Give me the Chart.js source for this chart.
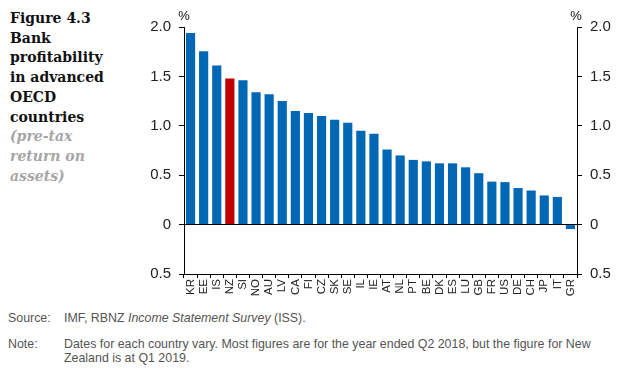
<!DOCTYPE html>
<html>
<head>
<meta charset="utf-8">
<script src="https://cdn.jsdelivr.net/npm/chart.js@4"></script>
<style>
  body { margin: 0; background: #fff; width: 627px; height: 370px; position: relative; overflow: hidden; }
  #title { position: absolute; left: 10px; top: 9px; font-family: "DejaVu Serif", serif; font-weight: bold; font-size: 14px; line-height: 19.7px; color: #111; }
  #title .sub { color: #a6a6a6; font-style: italic; }
  #wrap { position: absolute; left: 124px; top: 0; width: 503px; height: 305px; }
  .foot { position: absolute; left: 8px; font-family: "Liberation Sans", Arial, sans-serif; font-size: 12.4px; color: #555; line-height: 14px; }
  .foot .lbl { position: absolute; left: 0; }
  .foot .txt { position: absolute; left: 56px; width: 570px; }
</style>
</head>
<body>
<div id="title">Figure 4.3<br>Bank<br>profitability<br>in advanced<br>OECD<br>countries<br><span class="sub">(pre-tax<br>return on<br>assets)</span></div>
<div id="wrap"><canvas id="myChart"></canvas></div>
<div class="foot" style="top:311px;"><span class="lbl">Source:</span><span class="txt">IMF, RBNZ <i>Income Statement Survey</i> (ISS).</span></div>
<div class="foot" style="top:337px;"><span class="lbl">Note:</span><span class="txt">Dates for each country vary. Most figures are for the year ended Q2 2018, but the figure for New<br>Zealand is at Q1 2019.</span></div>
<script>
const countries = ['KR', 'EE', 'IS', 'NZ', 'SI', 'NO', 'AU', 'LV', 'CA', 'FI', 'CZ', 'SK', 'SE', 'IL', 'IE',
    'AT', 'NL', 'PT', 'BE', 'DK', 'ES', 'LU', 'GB', 'FR', 'US', 'DE', 'CH', 'JP', 'IT', 'GR'];
const returnOnAssets = [1.94, 1.755, 1.61, 1.48, 1.46, 1.34, 1.32, 1.25, 1.15, 1.13, 1.10, 1.06, 1.03, 0.95, 0.92,
    0.76, 0.70, 0.655, 0.64, 0.62, 0.62, 0.58, 0.52, 0.435, 0.43, 0.37, 0.345, 0.295, 0.28, -0.045];
const yTicks = [-0.5, 0, 0.5, 1.0, 1.5, 2.0];

const blue = 'rgb(0, 103, 181)';
const red = 'rgb(192, 0, 0)';

const tickFont = { family: '"Liberation Sans", Arial, sans-serif', size: 15 };

function yLabel(v) {
    if (v === 0) return '0';
    return Math.abs(v).toFixed(1);
}

const percentPlugin = {
    id: 'percent',
    afterDraw(chart) {
        const c = chart.ctx;
        const a = chart.chartArea;
        c.save();
        c.fillStyle = '#111';
        c.font = '13px "Liberation Sans", Arial, sans-serif';
        c.textAlign = 'center';
        c.textBaseline = 'middle';
        c.fillText('%', a.left, 16);
        c.fillText('%', a.right - 1, 16);
        c.restore();
    }
};

const ctx = document.getElementById('myChart');

new Chart(ctx, {
    type: 'bar',
    data: {
        labels: countries,
        datasets: [{
            label: 'Pre-tax return on assets',
            data: returnOnAssets,
            backgroundColor: countries.map(c => c === 'NZ' ? red : blue),
            borderWidth: 0,
            barPercentage: 0.7,
            categoryPercentage: 1.0
        }]
    },
    options: {
        responsive: true,
        maintainAspectRatio: false,
        animation: false,
        layout: { padding: { top: 27, left: 0, right: 0, bottom: 0 } },
        plugins: {
            legend: { display: false },
            tooltip: { enabled: false }
        },
        scales: {
            x: {
                position: 'bottom',
                grid: { drawOnChartArea: false, color: '#000', tickLength: 4, offset: true },
                border: { display: true, color: '#000' },
                ticks: {
                    autoSkip: false, minRotation: 90, maxRotation: 90, padding: 1,
                    color: '#222', font: { family: '"Liberation Sans", Arial, sans-serif', size: 11.5 }
                },
                afterFit(scale) { scale.height = 31; }
            },
            y: {
                position: 'left',
                min: -0.5, max: 2.0,
                afterBuildTicks(scale) { scale.ticks = yTicks.map(v => ({ value: v })); },
                grid: {
                    color: c => c.tick && c.tick.value === 0 ? '#000' : 'transparent',
                    tickColor: '#000', tickLength: 5
                },
                border: { display: true, color: '#000' },
                ticks: { callback: yLabel, color: '#222', font: tickFont, padding: 8 },
                afterFit(scale) { scale.width = 60; }
            },
            y2: {
                position: 'right',
                min: -0.5, max: 2.0,
                afterBuildTicks(scale) { scale.ticks = yTicks.map(v => ({ value: v })); },
                grid: { drawOnChartArea: false, tickColor: '#000', tickLength: 5 },
                border: { display: true, color: '#000' },
                ticks: { callback: yLabel, color: '#222', font: tickFont, padding: 8 },
                afterFit(scale) { scale.width = 50; }
            }
        }
    },
    plugins: [percentPlugin]
});
</script>
</body>
</html>
